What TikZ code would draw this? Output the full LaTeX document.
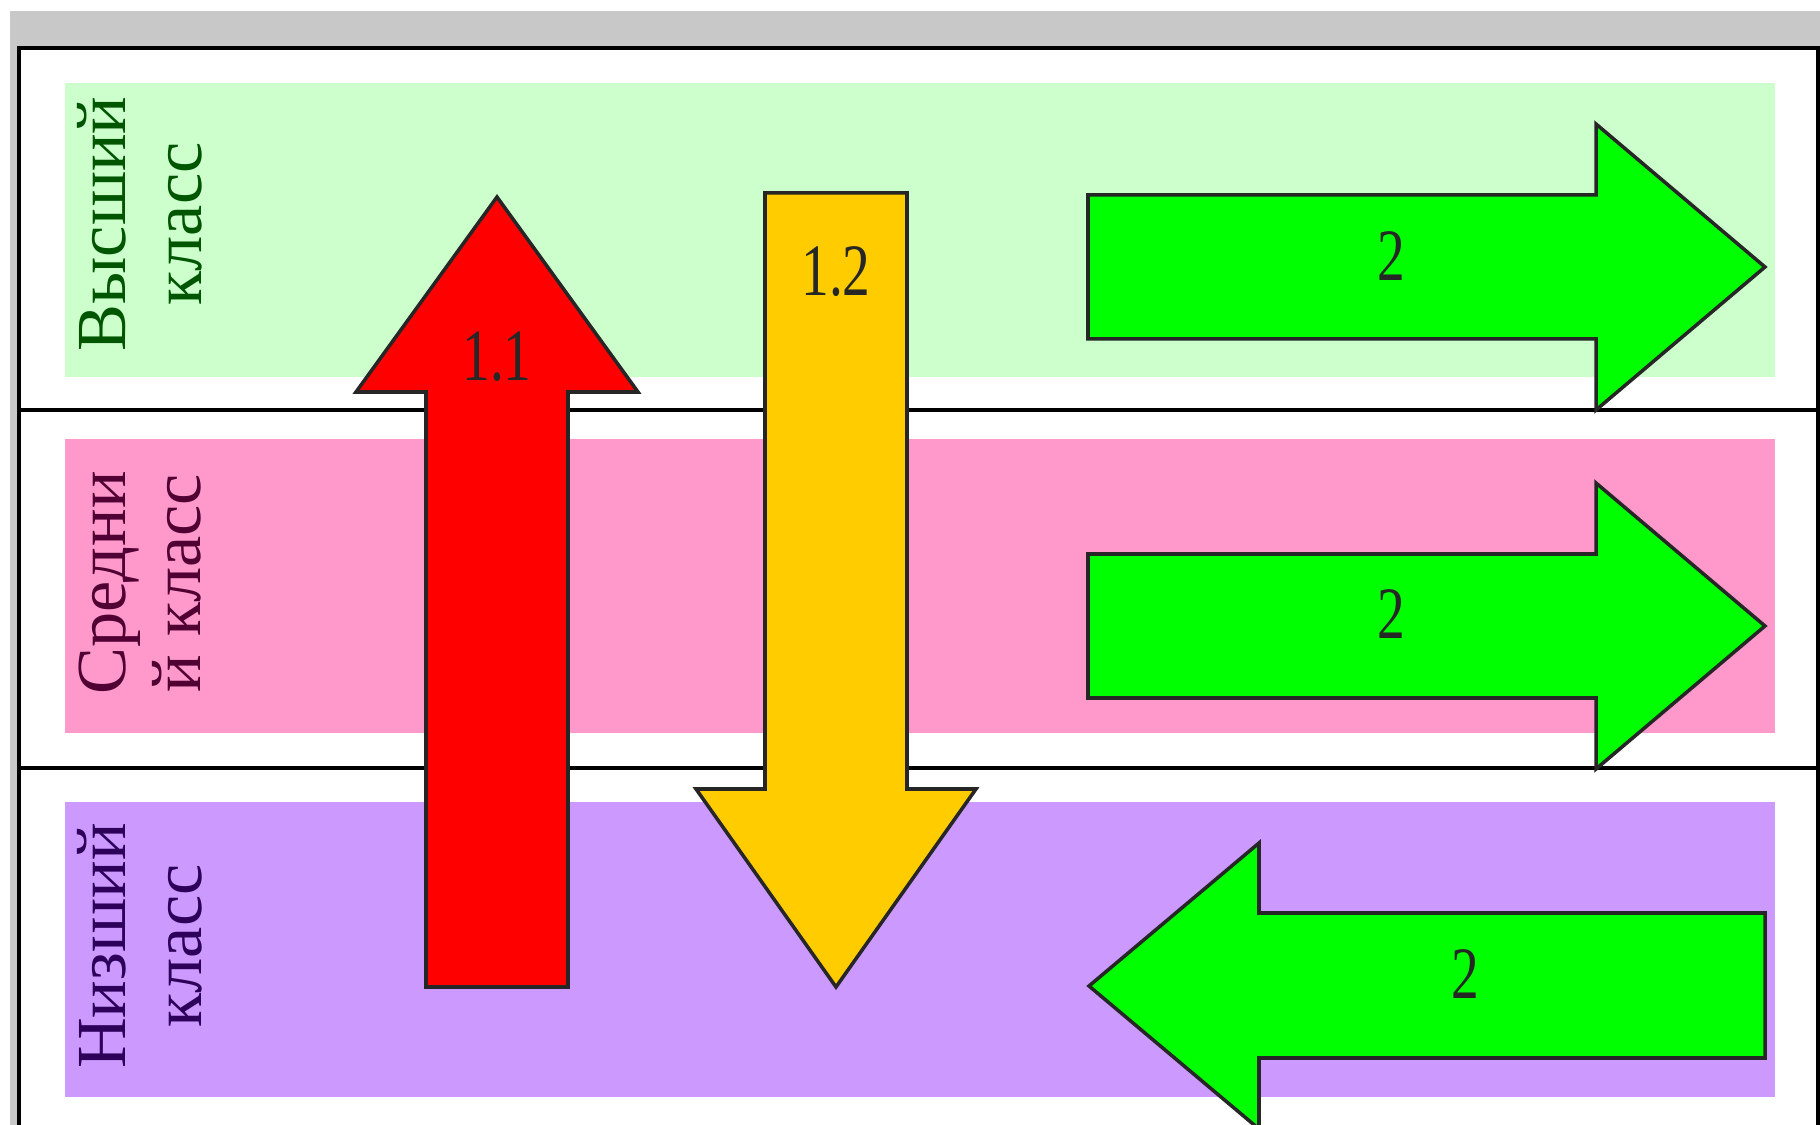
\documentclass[tikz,border=0pt]{standalone}
\usepackage{fontspec}
\setmainfont{Liberation Serif}
\usepackage{graphicx}
\usepackage{xcolor}

\definecolor{framegray}{RGB}{200,200,200}
\definecolor{bandgreen}{RGB}{204,255,204}
\definecolor{bandpink}{RGB}{255,153,204}
\definecolor{bandviolet}{RGB}{204,153,255}
\definecolor{arrred}{RGB}{255,0,0}
\definecolor{arryellow}{RGB}{255,204,0}
\definecolor{arrgreen}{RGB}{0,255,0}
\definecolor{txtgreen}{RGB}{0,85,0}
\definecolor{txtpink}{RGB}{80,0,50}
\definecolor{txtviolet}{RGB}{45,0,90}

\begin{document}
\begin{tikzpicture}[
    x=0.01cm, y=-0.01cm,
    rule/.style={draw=black, line width=0.9pt},
    classtext/.style={rotate=90, align=center, inner sep=0pt, font=\fontsize{20}{21.5}\selectfont},
    blockarrow/.style={draw=black!85, line width=1pt, line join=miter},
    numtext/.style={inner sep=0pt, text=black!85, font=\fontsize{21}{24}\selectfont}
]
\useasboundingbox (0,0) rectangle (1820,1125);
\fill[white] (0,0) rectangle (1820,1125);

% frame of the table
\fill[framegray] (10,11) rectangle (1820,1125);
\fill[white] (19,48) rectangle (1818,1125);
\draw[rule] (19,1125) |- (1818,48) -- (1818,1125);
\draw[rule] (19,410) -- (1818,410);
\draw[rule] (19,768) -- (1818,768);

% class bands
\fill[bandgreen]  (65,83)  rectangle (1775,377);
\fill[bandpink]   (65,439) rectangle (1775,733);
\fill[bandviolet] (65,802) rectangle (1775,1097);

\node[classtext, text=txtgreen]  (upper)  at (140,224) {Высший\\класс};
\node[classtext, text=txtpink]   (middle) at (140,583) {Средни\\й класс};
\node[classtext, text=txtviolet] (lower)  at (140,946) {Низший\\класс};

% vertical mobility
\draw[blockarrow, fill=arrred] (426,987) -- (426,392) -- (356,392) -- (497,197)
    -- (638,392) -- (568,392) -- (568,987) -- cycle;
\draw[blockarrow, fill=arryellow] (765,193) -- (907,193) -- (907,789) -- (976,789)
    -- (836,987) -- (696,789) -- (765,789) -- cycle;

% horizontal mobility
\foreach \dy in {0,359} {
  \draw[blockarrow, fill=arrgreen, yshift=-\dy*0.01cm] (1088,195) -- (1596,195) -- (1596,124)
      -- (1765,267) -- (1596,410) -- (1596,339) -- (1088,339) -- cycle;
}
\draw[blockarrow, fill=arrgreen] (1765,913) -- (1259,913) -- (1259,843)
    -- (1089,986) -- (1259,1129) -- (1259,1058) -- (1765,1058) -- cycle;

\node[numtext] (n11) at (497,357) {\scalebox{0.75}[1]{1.1}};
\node[numtext] (n12) at (836,272) {\scalebox{0.75}[1]{1.2}};
\node[numtext] (n2a) at (1391,256) {\scalebox{0.75}[1]{2}};
\node[numtext] (n2b) at (1391,614) {\scalebox{0.75}[1]{2}};
\node[numtext] (n2c) at (1465,974) {\scalebox{0.75}[1]{2}};
\end{tikzpicture}
\end{document}
